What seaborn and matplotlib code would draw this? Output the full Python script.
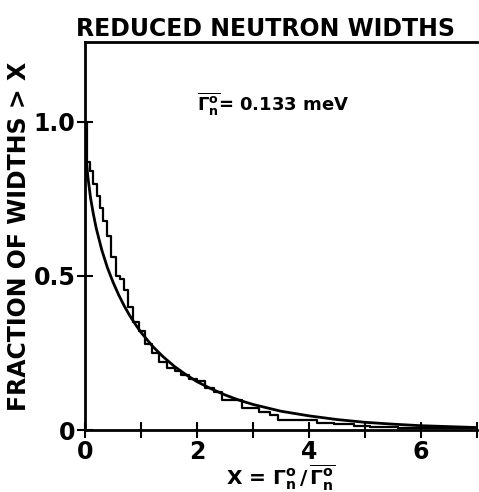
import matplotlib
matplotlib.use("Agg")
import numpy as np
import pandas as pd
import matplotlib.pyplot as plt
import seaborn as sns

# ── Data ────────────────────────────────────────────────────────────────────
# smooth (Porter-Thomas) curve: fraction of widths > x
curve_x = [0.0, 0.01, 0.02, 0.05, 0.1, 0.15, 0.2, 0.3, 0.4, 0.5, 0.6, 0.7, 0.8,
           0.9, 1.0, 1.2, 1.4, 1.6, 1.8, 2.0, 2.25, 2.5, 2.75, 3.0, 3.5, 4.0,
           4.5, 5.0, 5.5, 6.0, 6.5, 7.0]
curve_y = [1.0, 0.92, 0.888, 0.823, 0.752, 0.700, 0.655, 0.584, 0.527, 0.480,
           0.439, 0.403, 0.371, 0.343, 0.317, 0.273, 0.237, 0.206, 0.180, 0.157,
           0.134, 0.114, 0.097, 0.083, 0.061, 0.046, 0.034, 0.025, 0.019,
           0.014, 0.011, 0.008]

# observed cumulative distribution (step histogram)
step_x = [0.0, 0.03, 0.09, 0.15, 0.22, 0.27, 0.33, 0.40, 0.46, 0.55, 0.62,
          0.70, 0.76, 0.85, 0.97, 1.08, 1.2, 1.33, 1.47, 1.6, 1.72, 1.85, 2.0,
          2.15, 2.3, 2.45, 2.8, 3.1, 3.3, 3.45, 4.15, 4.45, 4.8, 5.1, 5.6, 6.0,
          6.5, 7.0]
step_y = [1.0, 0.87, 0.84, 0.80, 0.76, 0.72, 0.68, 0.63, 0.56, 0.50, 0.49,
          0.455, 0.40, 0.35, 0.32, 0.28, 0.25, 0.22, 0.20, 0.19, 0.18, 0.165,
          0.16, 0.135, 0.123, 0.097, 0.071, 0.060, 0.049, 0.032, 0.023, 0.018,
          0.013, 0.010, 0.008, 0.006, 0.005, 0.005]

x_ticks = [0, 1, 2, 3, 4, 5, 6, 7]
x_labels = ["0", "", "2", "", "4", "", "6", ""]
y_ticks = [0, 0.5, 1.0]
y_labels = ["0", "0.5", "1.0"]

sns.set_style("white", {"xtick.bottom": True, "ytick.left": True,
                        "text.color": "black", "axes.labelcolor": "black",
                        "xtick.color": "black", "ytick.color": "black"})
plt.rcParams["font.family"] = ["DejaVu Sans"]
plt.rcParams["mathtext.fontset"] = "dejavusans"

fig = plt.figure(figsize=(4.79, 4.92), dpi=100)
ax = fig.add_axes([0.1775, 0.126, 0.818, 0.789])

curve = pd.DataFrame({"x": curve_x, "y": curve_y})
steps = pd.DataFrame({"x": step_x, "y": step_y})
sns.lineplot(data=curve, x="x", y="y", ax=ax, color="black", lw=2.0,
             sort=False, estimator=None)
sns.lineplot(data=steps, x="x", y="y", ax=ax, color="black", lw=1.6,
             drawstyle="steps-post", sort=False, estimator=None)

ax.set_xlim(0, 7.0)
ax.set_ylim(0, 1.26)
ax.set_xticks(x_ticks)
ax.set_xticklabels(x_labels)
ax.set_yticks(y_ticks)
ax.set_yticklabels(y_labels)
ax.tick_params(direction="inout", length=12, width=1.5, labelsize=17,
               pad=1, color="black", labelcolor="black")
for lab in ax.get_xticklabels() + ax.get_yticklabels():
    lab.set_fontweight("bold")

for side in ["left", "bottom", "top"]:
    ax.spines[side].set_color("black")
    ax.spines[side].set_linewidth(2.0)
ax.spines["right"].set_visible(False)

ax.set_xlabel(r"X = $\mathbf{\Gamma_{n}^{o}\,/\,\overline{\Gamma_{n}^{o}}}$",
              fontsize=14.5, fontweight="bold", labelpad=-1, color="black")
ax.set_ylabel("FRACTION OF WIDTHS > X", fontsize=17, fontweight="bold",
              labelpad=2, color="black")
ax.set_title("REDUCED NEUTRON WIDTHS", fontsize=17, fontweight="bold",
             pad=4, loc="center", x=0.46, color="black")
ax.text(2.0, 1.06, r"$\mathbf{\overline{\Gamma_{n}^{o}}}$= 0.133 meV",
        fontsize=13, fontweight="bold", va="center", ha="left",
        color="black")

fig.savefig("out.png", dpi=100)
